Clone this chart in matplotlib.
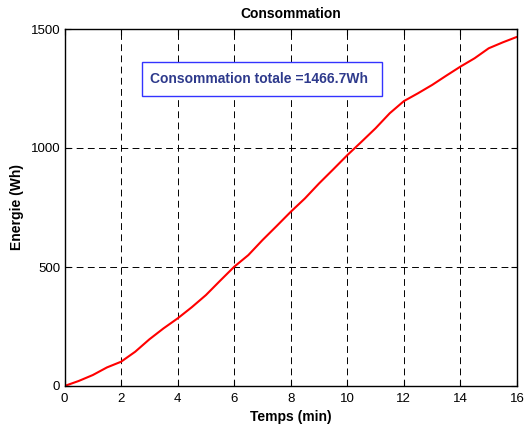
import matplotlib.pyplot as plt
from matplotlib.patches import Rectangle

plt.rcParams['font.family'] = ['Liberation Sans', 'DejaVu Sans']

# temps (min) et energie cumulee (Wh)
temps = [0, 0.5, 1, 1.5, 2, 2.5, 3, 3.5, 4, 4.5, 5, 5.5, 6, 6.5, 7, 7.5, 8,
         8.5, 9, 9.5, 10, 10.5, 11, 11.5, 12, 12.5, 13, 13.5, 14, 14.5, 15, 15.5, 16]
energie = [0, 21, 46, 78, 102, 144, 196, 242, 284, 331, 382, 442, 501, 550, 613, 672, 732,
           788, 851, 910, 970, 1026, 1083, 1146, 1197, 1230, 1265, 1304, 1342, 1377, 1419, 1444, 1467]
total = 1466.7

xticks = [0, 2, 4, 6, 8, 10, 12, 14, 16]
yticks = [0, 500, 1000, 1500]

fig = plt.figure(figsize=(5.25, 4.26), dpi=100)
ax = fig.add_axes([64.5/525, 40/426, (517-64.5)/525, (386-29)/426])

ax.plot(temps, energie, color='red', linewidth=1.5)
ax.set_xlim(0, 16)
ax.set_ylim(0, 1500)
ax.set_xticks(xticks)
ax.set_yticks(yticks)
ax.grid(True, color='black', linestyle=(0, (7, 4.5)), linewidth=0.7)
ax.tick_params(direction='in', top=True, right=True, labelsize=9.5, length=4)
ax.tick_params(axis='x', pad=5)
ax.tick_params(axis='y', pad=3)
for s in ax.spines.values():
    s.set_linewidth(1.0)

ax.set_title('Consommation', fontsize=10, fontweight='bold', pad=8)
ax.set_xlabel('Temps (min)', fontsize=10, fontweight='bold', labelpad=4)
ax.set_ylabel('Energie (Wh)', fontsize=10, fontweight='bold', labelpad=5)

# boite d'annotation
fig.patches.append(Rectangle((142/525, 1 - 96/426), 240/525, 34/426,
                             transform=fig.transFigure, fill=True, facecolor='white',
                             edgecolor='#3333ff', linewidth=1.0, zorder=5))
fig.text(150/525, 1 - 79/426, 'Consommation totale =%.1fWh' % total,
         color='#2e3a8c', fontsize=10, fontweight='bold', va='center', ha='left', zorder=6)

fig.savefig('out.png', dpi=100)
